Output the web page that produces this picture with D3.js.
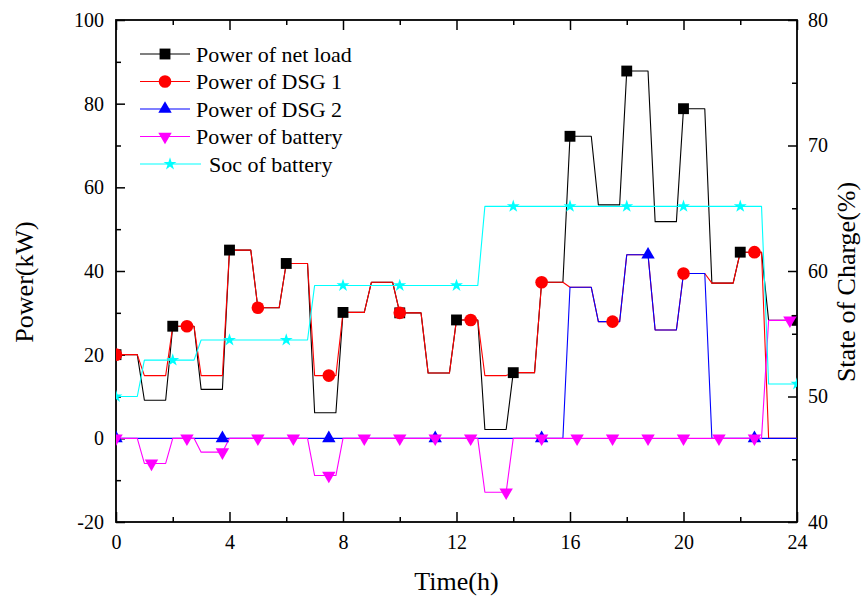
<!DOCTYPE html>
<html>
<head>
<meta charset="utf-8">
<script src="https://cdn.jsdelivr.net/npm/d3@7"></script>
<style>
  html, body { margin: 0; padding: 0; background: #fff; }
  svg { display: block; }
  text { font-family: "Liberation Serif", "Times New Roman", serif; fill: #000; }
</style>
</head>
<body>
<svg id="chart" width="865" height="597"></svg>
<script>
// Hourly dispatch schedule (each hour's value is held over its 15-min intervals)
const netLoad = [20, 9.1, 26.8, 11.7, 45, 31.2, 41.8, 6.1, 30.1, 37.3, 30.0, 15.6,
                 28.3, 2.1, 15.7, 37.3, 72.2, 55.8, 87.8, 51.8, 78.8, 37.1, 44.5, 28.2];
const dsg1    = [20, 15, 26.8, 15, 45, 31.2, 41.8, 15, 30.1, 37.3, 30.0, 15.6,
                 28.3, 15, 15.7, 37.3, 36.1, 27.9, 43.9, 25.9, 39.4, 37.1, 44.5, 0];
const dsg2    = [0, 0, 0, 0, 0, 0, 0, 0, 0, 0, 0, 0,
                 0, 0, 0, 0, 36.1, 27.9, 43.9, 25.9, 39.4, 0, 0, 0];
const battery = [0, -6, 0, -3.3, 0, 0, 0, -8.9, 0, 0, 0, 0,
                 0, -12.9, 0, 0, 0, 0, 0, 0, 0, 0, 0, 28.2];
const soc     = [50, 52.9, 52.9, 54.5, 54.5, 54.5, 54.5, 58.85, 58.85, 58.85, 58.85, 58.85,
                 58.85, 65.15, 65.15, 65.15, 65.15, 65.15, 65.15, 65.15, 65.15, 65.15, 65.15, 51];

const timeTicks  = [0, 4, 8, 12, 16, 20, 24];
const timeMinor  = [2, 6, 10, 14, 18, 22];
const powerTicks = [-20, 0, 20, 40, 60, 80, 100];
const powerMinor = [-10, 10, 30, 50, 70, 90];
const socTicks   = [40, 50, 60, 70, 80];
const socMinor   = [45, 55, 65, 75];

const seriesNames = ["Power of net load", "Power of DSG 1", "Power of DSG 2",
                     "Power of battery", "Soc of battery"];

// ---------------------------------------------------------------------------
const FONT = "'Liberation Serif','Times New Roman',serif";
const svg = d3.select("#chart");
const plot = { left: 116, right: 797, top: 20, bottom: 522 };

const x  = d3.scaleLinear().domain([0, 24]).range([plot.left, plot.right]);
const yP = d3.scaleLinear().domain([-20, 100]).range([plot.bottom, plot.top]);
const yS = d3.scaleLinear().domain([40, 80]).range([plot.bottom, plot.top]);

const HOLD = 0.75;   // value held for three quarter-hours, ramps over the last one

const series = [
  { name: seriesNames[0], values: netLoad, color: "#000000", y: yP, sym: d3.symbolSquare,   size: 118, rot: 0,   every: 2 },
  { name: seriesNames[1], values: dsg1,    color: "#ff0000", y: yP, sym: d3.symbolCircle,   size: 125, rot: 0,   every: 2.5 },
  { name: seriesNames[2], values: dsg2,    color: "#0000ff", y: yP, sym: d3.symbolTriangle, size: 78,  rot: 0,   every: 3.75 },
  { name: seriesNames[3], values: battery, color: "#ff00ff", y: yP, sym: d3.symbolTriangle, size: 78,  rot: 180, every: 1.25 },
  { name: seriesNames[4], values: soc,     color: "#00ffff", y: yS, sym: d3.symbolStar,     size: 52,  rot: 0,   every: 2 }
];

function stepPoints(values) {
  const pts = [];
  values.forEach((v, h) => { pts.push([h, v]); pts.push([h + HOLD, v]); });
  pts.push([24, values[values.length - 1]]);
  return pts;
}
function markerPoints(values, every) {
  return d3.range(0, 24 + 1e-9, every).map(t =>
    [t, values[Math.min(values.length - 1, Math.floor(t + 1e-9))]]);
}

// clip marks to the frame
svg.append("defs").append("clipPath").attr("id", "plot-clip")
  .append("rect")
  .attr("x", plot.left).attr("y", plot.top)
  .attr("width", plot.right - plot.left).attr("height", plot.bottom - plot.top);

// ---- axes -----------------------------------------------------------------
const fmt = d => String(d);
function styleAxis(g) {
  g.attr("font-family", FONT).attr("font-size", 20);
  g.select(".domain").remove();
  g.selectAll(".tick line").attr("stroke", "#000").attr("stroke-width", 1.5);
  g.selectAll(".tick text").attr("fill", "#000")
    .style("font-size", "20px").style("font-family", FONT);
}

svg.append("g").attr("transform", `translate(0,${plot.bottom})`)
  .call(d3.axisBottom(x).tickValues(timeTicks).tickSize(-10).tickPadding(13).tickFormat(fmt))
  .call(styleAxis);
svg.append("g").attr("transform", `translate(0,${plot.bottom})`)
  .call(d3.axisBottom(x).tickValues(timeMinor).tickSize(-5).tickFormat(""))
  .call(styleAxis);
svg.append("g").attr("transform", `translate(0,${plot.top})`)
  .call(d3.axisTop(x).tickValues(timeTicks).tickSize(-10).tickFormat(""))
  .call(styleAxis);
svg.append("g").attr("transform", `translate(0,${plot.top})`)
  .call(d3.axisTop(x).tickValues(timeMinor).tickSize(-5).tickFormat(""))
  .call(styleAxis);

svg.append("g").attr("transform", `translate(${plot.left},0)`)
  .call(d3.axisLeft(yP).tickValues(powerTicks).tickSize(-9).tickPadding(12).tickFormat(fmt))
  .call(styleAxis);
svg.append("g").attr("transform", `translate(${plot.left},0)`)
  .call(d3.axisLeft(yP).tickValues(powerMinor).tickSize(-5).tickFormat(""))
  .call(styleAxis);

svg.append("g").attr("transform", `translate(${plot.right},0)`)
  .call(d3.axisRight(yS).tickValues(socTicks).tickSize(-9).tickPadding(11).tickFormat(fmt))
  .call(styleAxis);
svg.append("g").attr("transform", `translate(${plot.right},0)`)
  .call(d3.axisRight(yS).tickValues(socMinor).tickSize(-5).tickFormat(""))
  .call(styleAxis);

// frame
svg.append("rect")
  .attr("x", plot.left).attr("y", plot.top)
  .attr("width", plot.right - plot.left).attr("height", plot.bottom - plot.top)
  .attr("fill", "none").attr("stroke", "#000").attr("stroke-width", 1.8);

// axis titles
svg.append("text").attr("transform", "translate(33,282) rotate(-90)")
  .attr("text-anchor", "middle").style("font-size", "26px").style("font-family", FONT)
  .text("Power(kW)");
svg.append("text").attr("transform", "translate(855,282) rotate(-90)")
  .attr("text-anchor", "middle").style("font-size", "26px").style("font-family", FONT)
  .text("State of Charge(%)");
svg.append("text").attr("x", (plot.left + plot.right) / 2).attr("y", 590)
  .attr("text-anchor", "middle").style("font-size", "26px").style("font-family", FONT)
  .text("Time(h)");

// ---- series ---------------------------------------------------------------
const plotArea = svg.append("g").attr("clip-path", "url(#plot-clip)");

series.forEach(s => {
  const line = d3.line().x(d => x(d[0])).y(d => s.y(d[1]));
  plotArea.append("path")
    .datum(stepPoints(s.values))
    .attr("d", line)
    .attr("fill", "none")
    .attr("stroke", s.color)
    .attr("stroke-width", 1.1)
    .attr("stroke-linejoin", "round");
});

series.forEach(s => {
  const sym = d3.symbol().type(s.sym).size(s.size);
  plotArea.append("g").selectAll("path")
    .data(markerPoints(s.values, s.every))
    .join("path")
    .attr("d", sym)
    .attr("transform", d => `translate(${x(d[0])},${s.y(d[1])}) rotate(${s.rot})`)
    .attr("fill", s.color);
});

// ---- legend ---------------------------------------------------------------
const legend = svg.append("g");
series.forEach((s, i) => {
  const cy = 54 + i * 27.5;
  const last = i === series.length - 1;
  const x0 = 140, x1 = last ? 201 : 190, mx = last ? 170 : 165, tx = last ? 209 : 196;
  const row = legend.append("g");
  row.append("line").attr("x1", x0).attr("x2", x1).attr("y1", cy).attr("y2", cy)
    .attr("stroke", s.color).attr("stroke-width", 1.1);
  row.append("path").attr("d", d3.symbol().type(s.sym).size(s.size))
    .attr("transform", `translate(${mx},${cy}) rotate(${s.rot})`)
    .attr("fill", s.color);
  row.append("text").attr("x", tx).attr("y", cy + 7.5)
    .style("font-size", "22px").style("font-family", FONT).text(s.name);
});
</script>
</body>
</html>
